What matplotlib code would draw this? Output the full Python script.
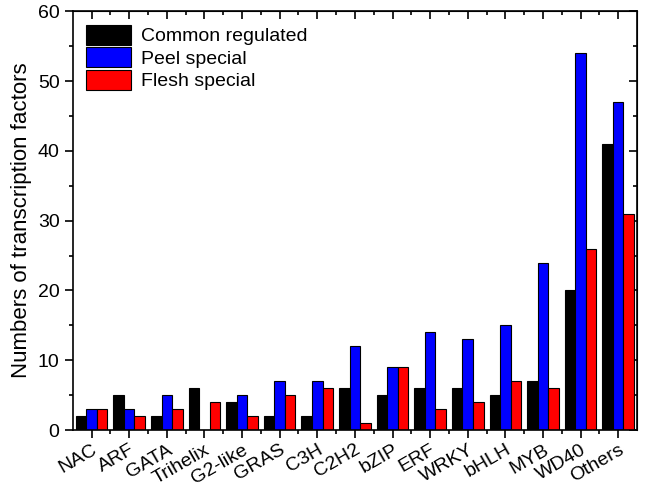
import matplotlib.pyplot as plt
import numpy as np
from matplotlib.ticker import MultipleLocator, FixedLocator

plt.rcParams['font.family'] = ['Liberation Sans', 'DejaVu Sans']

families = ['NAC', 'ARF', 'GATA', 'Trihelix', 'G2-like', 'GRAS', 'C3H', 'C2H2',
            'bZIP', 'ERF', 'WRKY', 'bHLH', 'MYB', 'WD40', 'Others']
common = [2, 5, 2, 6, 4, 2, 2, 6, 5, 6, 6, 5, 7, 20, 41]
peel = [3, 3, 5, 0, 5, 7, 7, 12, 9, 14, 13, 15, 24, 54, 47]
flesh = [3, 2, 3, 4, 2, 5, 6, 1, 9, 3, 4, 7, 6, 26, 31]

fig = plt.figure(figsize=(6.5, 4.86), dpi=100)
ax = fig.add_axes([0.112, 0.115, 0.868, 0.862])

x = np.arange(1, len(families) + 1)
w = 0.28
ax.bar(x - w, common, w, color='black', edgecolor='black', lw=0.8, label='Common regulated')
ax.bar(x, peel, w, color='#0000ff', edgecolor='black', lw=0.8, label='Peel special')
ax.bar(x + w, flesh, w, color='#ff0000', edgecolor='black', lw=0.8, label='Flesh special')

ax.set_xlim(0.5, 15.5)
ax.set_ylim(0, 60)
ax.yaxis.set_major_locator(MultipleLocator(10))
ax.yaxis.set_minor_locator(MultipleLocator(5))
ax.xaxis.set_major_locator(FixedLocator(x))
ax.xaxis.set_minor_locator(FixedLocator(x[:-1] + 0.5))
ax.set_xticklabels(families, rotation=30, ha='right', rotation_mode='anchor')

ax.tick_params(axis='both', which='both', direction='out', top=False, right=False, width=1.2)
ax.tick_params(axis='y', labelsize=14)
ax.tick_params(axis='x', labelsize=14, pad=2)
ax.tick_params(which='major', length=6)
ax.tick_params(which='minor', length=3)
for s in ax.spines.values():
    s.set_linewidth(1.2)

# mirrored inward ticks on top/right
axt = ax.secondary_xaxis('top')
axt.xaxis.set_major_locator(FixedLocator(x))
axt.xaxis.set_minor_locator(FixedLocator(x[:-1] + 0.5))
axt.tick_params(which='both', direction='in', labeltop=False, width=1.2)
axt.tick_params(which='major', length=6)
axt.tick_params(which='minor', length=3)
axr = ax.secondary_yaxis('right')
axr.yaxis.set_major_locator(MultipleLocator(10))
axr.yaxis.set_minor_locator(MultipleLocator(5))
axr.tick_params(which='both', direction='in', labelright=False, width=1.2)
axr.tick_params(which='major', length=6)
axr.tick_params(which='minor', length=3)

ax.set_ylabel('Numbers of transcription factors', fontsize=16, labelpad=4)
ax.legend(loc='upper left', frameon=False, fontsize=14, handlelength=2.3,
          handleheight=1.2, labelspacing=0.1, borderaxespad=0.3, handletextpad=0.5)

fig.savefig('out.png', dpi=100)
